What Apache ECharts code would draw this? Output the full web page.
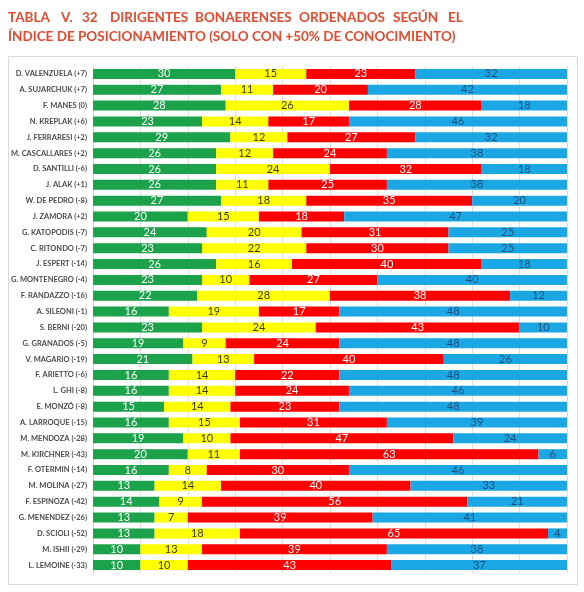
<!DOCTYPE html>
<html><head><meta charset="utf-8">
<script src="https://cdn.jsdelivr.net/npm/echarts@6/dist/echarts.min.js"></script>
<style>html,body{margin:0;padding:0;background:#fff}#c{width:584px;height:592px}</style>
</head><body><div id="c"></div>
<script>
const names = ["D. VALENZUELA (+7)","A. SUJARCHUK (+7)","F. MANES (0)","N. KREPLAK (+6)","J. FERRARESI (+2)","M. CASCALLARES (+2)","D. SANTILLI (-6)","J. ALAK (+1)","W. DE PEDRO (-8)","J. ZAMORA (+2)","G. KATOPODIS (-7)","C. RITONDO (-7)","J. ESPERT (-14)","G. MONTENEGRO (-4)","F. RANDAZZO (-16)","A. SILEONI (-1)","S. BERNI (-20)","G. GRANADOS (-5)","V. MAGARIO (-19)","F. ARIETTO (-6)","L. GHI (-8)","E. MONZÓ (-8)","A. LARROQUE (-15)","M. MENDOZA (-28)","M. KIRCHNER (-43)","F. OTERMIN (-14)","M. MOLINA (-27)","F. ESPINOZA (-42)","G. MENENDEZ (-26)","D. SCIOLI (-52)","M. ISHII (-29)","L. LEMOINE (-33)"];
const green  = [30,27,28,23,29,26,26,26,27,20,24,23,26,23,22,16,23,19,21,16,16,15,16,19,20,16,13,14,13,13,10,10];
const yellow = [15,11,26,14,12,12,24,11,18,15,20,22,16,10,28,19,24,9,13,14,14,14,15,10,11,8,14,9,7,18,13,10];
const red    = [23,20,28,17,27,24,32,25,35,18,31,30,40,27,38,17,43,24,40,22,24,23,31,47,63,30,40,56,39,65,39,43];
const blue   = [32,42,18,46,32,38,18,38,20,47,25,25,18,40,12,48,10,48,26,48,46,48,39,24,6,46,33,21,41,4,38,37];
const titleLine1Words = ["TABLA","V.","32","DIRIGENTES","BONAERENSES","ORDENADOS","SEGÚN","EL"];
const titleLine2 = "ÍNDICE DE POSICIONAMIENTO (SOLO CON +50% DE CONOCIMIENTO)";

const chart = echarts.init(document.getElementById('c'), null, {renderer:'canvas'});
const labelFont = 'Lato';
function ser(name, data, color, lblColor){
  return {
    name, type:'bar', stack:'t', data, barWidth:10,
    itemStyle:{color},
    label:{show:true, position:'inside', color:lblColor, fontFamily:labelFont, fontSize:11, fontWeight:'normal'}
  };
}
const wordX = [8,61,82,110,195,299,393,448];
const titleColor = '#e8492e';
const graphics = [
  {type:'rect', shape:{x:8.5,y:56.5,width:569,height:528}, style:{fill:'#fff', stroke:'#d9d9d9', lineWidth:1}, z:-10}
];
titleLine1Words.forEach((w,i)=>{
  graphics.push({type:'text', left:wordX[i], top:11, style:{text:w, fill:titleColor, font:'bold 13.5px Lato'}});
});
graphics.push({type:'text', left:8, top:30, style:{text:titleLine2, fill:titleColor, font:'bold 13.5px Lato'}});

chart.setOption({
  animation:false,
  graphic:graphics,
  grid:{left:93, right:17, top:66, bottom:19},
  xAxis:{type:'value', min:0, max:100, interval:10, axisLabel:{show:false}, axisLine:{show:false}, axisTick:{show:false},
    splitLine:{lineStyle:{color:'#dcdcdc', width:1}}},
  yAxis:{type:'category', inverse:true, data:names, axisTick:{show:false},
    axisLine:{show:true, lineStyle:{color:'#dcdcdc'}},
    axisLabel:{color:'#4a4a4a', fontFamily:'Lato', fontWeight:'bold', fontSize:7.5, margin:6}},
  series:[
    ser('green', green, '#1ba24b', '#ffffff'),
    ser('yellow', yellow, '#ffff00', '#3a3a20'),
    ser('red', red, '#ff0000', '#ffffff'),
    ser('blue', blue, '#1aa7e3', '#1d4f7c')
  ]
});
</script></body></html>
